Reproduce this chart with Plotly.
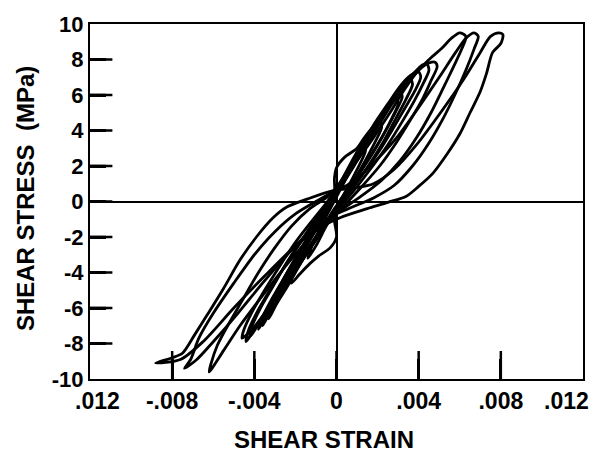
import plotly.graph_objects as go

# ---- data: hysteresis loops (shear strain, shear stress in MPa) ----
loop_a_strain = [-0.0088, -0.0080, -0.0075, -0.0069, -0.0063, -0.0055, -0.0047, -0.0039, -0.0031, -0.0024,
                 -0.0014, -0.0002, 0.0008, 0.0018, 0.0028, 0.0039, 0.0050, 0.0062, 0.0070, 0.0075, 0.0079,
                 0.0081, 0.0080, 0.0076, 0.0073, 0.0070, 0.0065, 0.0060, 0.0054, 0.0047, 0.0040, 0.0034,
                 0.0025, 0.0015, 0.0002, -0.0010, -0.0020, -0.0035, -0.0050, -0.0065, -0.0076, -0.0088]
loop_a_stress = [-9.1, -8.8, -8.55, -7.5, -6.4, -4.9, -3.3, -2.0, -0.93, -0.3,
                 0.15, 0.6, 0.75, 1.0, 1.8, 3.2, 4.9, 6.9, 8.4, 9.3, 9.5,
                 9.4, 8.9, 8.4, 7.2, 6.2, 5.0, 3.8, 2.7, 1.6, 0.85, 0.3,
                 -0.05, -0.4, -0.9, -1.6, -2.5, -4.2, -6.0, -7.9, -8.9, -9.1]

loop_b_strain = [-0.0074, -0.0071, -0.0067, -0.0060, -0.0050, -0.0040, -0.0030, -0.0020, -0.0010, -0.0003,
                 0.0005, 0.0012, 0.0020, 0.0030, 0.0040, 0.0050, 0.0058, 0.0063, 0.0067,
                 0.0069, 0.0067, 0.0063, 0.0058, 0.0052, 0.0045, 0.0037, 0.0028, 0.0018, 0.0008, -0.0002,
                 -0.0012, -0.0024, -0.0036, -0.0048, -0.0060, -0.0068, -0.0074]
loop_b_stress = [-9.4, -8.9, -7.7, -6.3, -4.6, -3.0, -1.7, -0.7, 0.0, 0.45,
                 0.9, 1.5, 2.4, 3.7, 5.3, 7.0, 8.4, 9.2, 9.5,
                 9.3, 8.6, 7.4, 6.1, 4.7, 3.3, 2.0, 0.9, 0.2, -0.3, -0.8,
                 -1.6, -3.0, -4.6, -6.3, -7.9, -8.9, -9.4]

loop_c_strain = [-0.0062, -0.0061, -0.0058, -0.0053, -0.0046, -0.0038, -0.0030, -0.0022, -0.0013, -0.0004,
                 0.0003, 0.0010, 0.0018, 0.0026, 0.0033, 0.0040, 0.0046, 0.0051, 0.0056, 0.0060,
                 0.0063, 0.0061, 0.0057, 0.0052, 0.0046, 0.0039, 0.0031, 0.0022, 0.0012, 0.0002,
                 -0.0008, -0.0018, -0.0028, -0.0038, -0.0047, -0.0055, -0.0062]
loop_c_stress = [-9.6, -9.1, -8.1, -7.0, -5.6, -4.0, -2.6, -1.4, -0.4, 0.3,
                 1.2, 2.3, 3.6, 5.0, 6.3, 7.4, 8.1, 8.6, 9.2, 9.5,
                 9.3, 8.6, 7.6, 6.4, 5.0, 3.6, 2.3, 1.2, 0.3, -0.5,
                 -1.4, -2.7, -4.1, -5.6, -7.0, -8.4, -9.6]

loop_d_strain = [-0.0046, -0.0045, -0.0041, -0.0035, -0.0028, -0.0020, -0.0012, -0.0005, 0.0000,
                 0.0006, 0.0013, 0.0020, 0.0027, 0.0034, 0.0040, 0.0045, 0.0048,
                 0.0049, 0.0046, 0.0042, 0.0036, 0.0029, 0.0021, 0.0012, 0.0004,
                 -0.0004, -0.0012, -0.0020, -0.0028, -0.0035, -0.0041, -0.0046]
loop_d_stress = [-7.7, -7.2, -6.2, -5.0, -3.7, -2.3, -1.1, -0.1, 0.6,
                 1.6, 2.9, 4.2, 5.5, 6.6, 7.4, 7.8, 7.85,
                 7.6, 6.8, 5.8, 4.6, 3.3, 2.0, 0.8, -0.2,
                 -1.2, -2.5, -3.8, -5.1, -6.3, -7.2, -7.7]

loop_e_strain = [-0.0044, -0.0043, -0.0039, -0.0033, -0.0026, -0.0018, -0.0010, -0.0003, 0.0002,
                 0.0008, 0.0014, 0.0021, 0.0028, 0.0034, 0.0039, 0.0042, 0.0044,
                 0.0045, 0.0042, 0.0038, 0.0032, 0.0025, 0.0017, 0.0009, 0.0001,
                 -0.0007, -0.0015, -0.0023, -0.0030, -0.0036, -0.0041, -0.0044]
loop_e_stress = [-7.9, -7.3, -6.3, -5.1, -3.8, -2.4, -1.2, -0.1, 0.8,
                 1.9, 3.1, 4.5, 5.8, 6.8, 7.4, 7.7, 7.75,
                 7.4, 6.6, 5.7, 4.5, 3.2, 1.9, 0.7, -0.4,
                 -1.5, -2.8, -4.2, -5.4, -6.5, -7.4, -7.9]

loop_f_strain = [-0.0038, -0.0036, -0.0032, -0.0026, -0.0019, -0.0012, -0.0005, 0.0001,
                 0.0007, 0.0014, 0.0021, 0.0027, 0.0032, 0.0036,
                 0.0037, 0.0034, 0.0029, 0.0023, 0.0016, 0.0008, 0.0000,
                 -0.0008, -0.0016, -0.0024, -0.0031, -0.0036, -0.0038]
loop_f_stress = [-7.2, -6.5, -5.6, -4.4, -3.0, -1.7, -0.5, 0.6,
                 1.8, 3.2, 4.6, 5.7, 6.5, 6.9,
                 6.6, 5.8, 4.7, 3.4, 2.1, 0.8, -0.4,
                 -1.8, -3.2, -4.6, -5.9, -6.8, -7.2]

loop_g_strain = [-0.0033, -0.0031, -0.0027, -0.0021, -0.0014, -0.0007, -0.0001,
                 0.0005, 0.0012, 0.0019, 0.0025, 0.0029, 0.0031,
                 0.0032, 0.0029, 0.0024, 0.0017, 0.0009, 0.0001,
                 -0.0007, -0.0015, -0.0022, -0.0028, -0.0033]
loop_g_stress = [-6.6, -5.9, -4.9, -3.6, -2.2, -0.9, 0.3,
                 1.5, 2.9, 4.3, 5.4, 6.0, 6.2,
                 5.9, 5.1, 4.0, 2.6, 1.2, -0.2,
                 -1.6, -3.0, -4.3, -5.5, -6.6]

loop_h_strain = [-0.0022, -0.0021, -0.0017, -0.0011, -0.0005, -0.0001,
                 -0.0001, 0.0000, 0.0004, 0.0010, 0.0013, 0.0017, 0.0021,
                 0.0022, 0.0019, 0.0014, 0.0008, 0.0001,
                 -0.0001, 0.0000, -0.0003, -0.0009, -0.0013, -0.0018, -0.0022]
loop_h_stress = [-4.6, -4.0, -3.0, -1.8, -0.6, 0.5,
                 1.3, 1.9, 2.5, 3.0, 3.5, 4.1, 4.5,
                 4.2, 3.4, 2.3, 1.1, -0.1,
                 -1.0, -2.0, -2.6, -3.1, -3.5, -4.1, -4.6]

loop_i_strain = [-0.0014, -0.0012, -0.0008, -0.0003, 0.0002, 0.0006, 0.0010, 0.0014,
                 0.0014, 0.0010, 0.0005, -0.0001, -0.0006, -0.0010, -0.0014]
loop_i_stress = [-3.2, -2.5, -1.5, -0.4, 0.7, 1.6, 2.5, 3.2,
                 2.8, 1.8, 0.7, -0.5, -1.6, -2.5, -3.2]

loop_j_strain = [-0.0042, -0.0041, -0.0037, -0.0031, -0.0024, -0.0016, -0.0009, -0.0002,
                 0.0004, 0.0011, 0.0018, 0.0025, 0.0031, 0.0036, 0.0040,
                 0.0041, 0.0038, 0.0033, 0.0027, 0.0020, 0.0012, 0.0004,
                 -0.0004, -0.0012, -0.0020, -0.0027, -0.0034, -0.0039, -0.0042]
loop_j_stress = [-7.6, -7.0, -6.0, -4.8, -3.4, -2.0, -0.8, 0.4,
                 1.5, 2.9, 4.3, 5.5, 6.5, 7.1, 7.3,
                 7.0, 6.2, 5.2, 4.0, 2.7, 1.4, 0.2,
                 -1.0, -2.4, -3.8, -5.0, -6.2, -7.1, -7.6]

loop_k_strain = [-0.0036, -0.0034, -0.0030, -0.0024, -0.0017, -0.0010, -0.0003,
                 0.0003, 0.0009, 0.0016, 0.0022, 0.0026, 0.0029,
                 0.0030, 0.0027, 0.0022, 0.0015, 0.0007, -0.0001,
                 -0.0009, -0.0017, -0.0024, -0.0030, -0.0034, -0.0036]
loop_k_stress = [-7.0, -6.3, -5.3, -4.0, -2.6, -1.2, 0.1,
                 1.3, 2.6, 3.9, 4.9, 5.5, 5.8,
                 5.5, 4.7, 3.6, 2.3, 0.9, -0.4,
                 -1.9, -3.4, -4.8, -5.9, -6.6, -7.0]

loops = [
    (loop_a_strain, loop_a_stress), (loop_b_strain, loop_b_stress), (loop_c_strain, loop_c_stress),
    (loop_d_strain, loop_d_stress), (loop_e_strain, loop_e_stress), (loop_f_strain, loop_f_stress),
    (loop_g_strain, loop_g_stress), (loop_h_strain, loop_h_stress), (loop_i_strain, loop_i_stress),
    (loop_j_strain, loop_j_stress), (loop_k_strain, loop_k_stress),
]

x_tick_vals = [-0.008, -0.004, 0, 0.004, 0.008]
x_tick_text = ["-.008", "-.004", "0", ".004", ".008"]
x_end_labels = [".012", ".012"]
y_tick_vals = [-10, -8, -6, -4, -2, 0, 2, 4, 6, 8, 10]
y_tick_text = ["-10", "-8", "-6", "-4", "-2", "0", "2", "4", "6", "8", "10"]
x_range = [-0.012, 0.012]
y_range = [-10, 10]

FONT = "Liberation Sans, Arial, Helvetica, sans-serif"
PLOT_W, PLOT_H = 493, 366
X_TICK_LEN, Y_TICK_LEN = 20, 16

fig = go.Figure()
for sx, sy in loops:
    fig.add_trace(go.Scatter(x=sx, y=sy, mode="lines",
                             line=dict(color="black", width=2.8, shape="spline", smoothing=0.8),
                             showlegend=False, hoverinfo="skip"))

# inside tick marks: line markers centred on the frame edge (outer half clipped by the axes)
y_inner = y_tick_vals[1:-1]
fig.add_trace(go.Scatter(x=x_tick_vals, y=[y_range[0]] * len(x_tick_vals), mode="markers",
                         marker=dict(symbol="line-ns", size=2 * X_TICK_LEN, color="black",
                                     line=dict(width=2.5, color="black")),
                         cliponaxis=True, showlegend=False, hoverinfo="skip"))
fig.add_trace(go.Scatter(x=[x_range[0]] * len(y_inner), y=y_inner, mode="markers",
                         marker=dict(symbol="line-ew", size=2 * Y_TICK_LEN, color="black",
                                     line=dict(width=2.5, color="black")),
                         cliponaxis=True, showlegend=False, hoverinfo="skip"))

# the same left-axis ticks as data-coordinate shapes (length converted from pixels via the range)
y_tick_end = x_range[0] + Y_TICK_LEN / PLOT_W * (x_range[1] - x_range[0])
y_tick_shapes = [dict(type="line", xref="x", yref="y", x0=x_range[0], x1=y_tick_end, y0=v, y1=v,
                      line=dict(color="black", width=2.5), layer="above") for v in y_inner]

fig.update_layout(
    width=600, height=452,
    margin=dict(l=90, r=17, t=13, b=73),
    paper_bgcolor="white", plot_bgcolor="white",
    font=dict(family=FONT, color="black"),
    shapes=y_tick_shapes,
    xaxis=dict(range=x_range, showgrid=False, showline=True, linecolor="black", linewidth=2,
               mirror=True, ticks="inside", ticklen=X_TICK_LEN, tickwidth=2.5, tickcolor="black",
               tickmode="array", tickvals=x_tick_vals, ticktext=x_tick_text,
               tickfont=dict(family=FONT, size=23, weight="bold", color="black"),
               zeroline=True, zerolinecolor="black", zerolinewidth=1.5),
    yaxis=dict(range=y_range, showgrid=False, showline=True, linecolor="black", linewidth=2,
               mirror=True, ticks="inside", ticklen=Y_TICK_LEN, tickwidth=2.5, tickcolor="black",
               tickmode="array", tickvals=y_tick_vals, ticktext=y_tick_text,
               tickfont=dict(family=FONT, size=22, weight="bold", color="black"),
               zeroline=True, zerolinecolor="black", zerolinewidth=1.5),
    annotations=[
        dict(text=x_end_labels[0], xref="x", yref="paper", x=x_range[0], y=0, xanchor="center", yanchor="top",
             xshift=7, yshift=-7, showarrow=False, font=dict(family=FONT, size=23, weight="bold", color="black")),
        dict(text=x_end_labels[1], xref="x", yref="paper", x=x_range[1], y=0, xanchor="center", yanchor="top",
             xshift=-17, yshift=-7, showarrow=False, font=dict(family=FONT, size=23, weight="bold", color="black")),
        dict(text="SHEAR STRAIN", xref="paper", yref="paper", x=(324 - 90) / 493, y=0,
             xanchor="center", yanchor="middle", yshift=-60, showarrow=False,
             font=dict(family=FONT, size=24, weight="bold", color="black")),
        dict(text="SHEAR STRESS \u00a0(MPa)", xref="paper", yref="paper", x=0, y=(379 - 193.5) / 366,
             xanchor="center", yanchor="middle", xshift=-65, textangle=-90, showarrow=False,
             font=dict(family=FONT, size=24, weight="bold", color="black")),
    ],
)

fig.write_html("out.html")
